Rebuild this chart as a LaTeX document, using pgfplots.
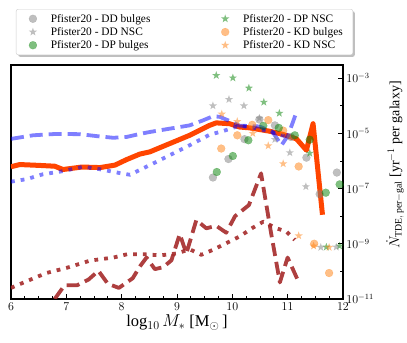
\documentclass[border=0pt]{standalone}
\usepackage{pgfplots}
\pgfplotsset{compat=1.18}
\usepackage{fontspec}
\setmainfont{Liberation Serif}
\usetikzlibrary{shadows}

\definecolor{redl}{RGB}{255,69,0}
\definecolor{brownl}{RGB}{165,42,42}
\definecolor{grayp}{RGB}{128,128,128}
\definecolor{greenp}{RGB}{0,128,0}
\definecolor{orangep}{RGB}{255,127,14}

% filled five-pointed star
\pgfdeclareplotmark{fstar}{%
  \pgfpathmoveto{\pgfqpointpolar{90}{\pgfplotmarksize}}%
  \pgfpathlineto{\pgfqpointpolar{126}{0.4\pgfplotmarksize}}%
  \pgfpathlineto{\pgfqpointpolar{162}{\pgfplotmarksize}}%
  \pgfpathlineto{\pgfqpointpolar{198}{0.4\pgfplotmarksize}}%
  \pgfpathlineto{\pgfqpointpolar{234}{\pgfplotmarksize}}%
  \pgfpathlineto{\pgfqpointpolar{270}{0.4\pgfplotmarksize}}%
  \pgfpathlineto{\pgfqpointpolar{306}{\pgfplotmarksize}}%
  \pgfpathlineto{\pgfqpointpolar{342}{0.4\pgfplotmarksize}}%
  \pgfpathlineto{\pgfqpointpolar{18}{\pgfplotmarksize}}%
  \pgfpathlineto{\pgfqpointpolar{54}{0.4\pgfplotmarksize}}%
  \pgfpathclose
  \pgfusepathqfill
}

\pgfplotsset{
  dot/.style={only marks, mark=*, mark size=4pt, color=#1, fill opacity=0.5, draw opacity=0.5, mark options={line width=0.1pt}},
  str/.style={only marks, mark=fstar, mark size=4.3pt, color=#1, fill opacity=0.5, draw opacity=0.5},
}
\pgfkeys{/pgfplots/table/lg/.style={/pgfplots/table/y expr={10^(\thisrow{ly})}}}

\begin{document}
\begin{tikzpicture}
\begin{axis}[
    width=332pt, height=234pt, scale only axis,
    xmin=6, xmax=12,
    ymode=log, ymin=1e-11, ymax=3e-3,
    xtick={6,7,8,9,10,11,12},
    minor x tick num=3,
    ytick={1e-11,1e-9,1e-7,1e-5,1e-3},
    minor ytick={1e-10,1e-8,1e-6,1e-4},
    xtick pos=bottom, ytick pos=right, yticklabel pos=right,
    tick align=inside,
    major tick length=5pt, minor tick length=3pt,
    every tick/.append style={black, line width=0.9pt},
    axis line style={line width=1.4pt},
    ticklabel style={font=\fontsize{12}{14}\selectfont},
    xlabel style={font=\fontsize{16.5}{18}\selectfont, yshift=2pt},
    ylabel style={font=\fontsize{14}{16}\selectfont, at={(rel axis cs:1,0.573)}, anchor=center, rotate=0, yshift=-52pt},
    xlabel={log$_{10}$\,$M_*$ [M$_\odot$\,]},
    ylabel={$\dot{N}_{\mathrm{TDE,\,per-gal}}$ [yr$^{-1}$ per galaxy]},
    legend columns=2,
    legend cell align=left,
    legend image code/.code={\path (0cm,0cm) (0.85cm,0cm); \draw[#1] plot coordinates {(0.3cm,0cm)};},
    legend style={at={(rel axis cs:0,1)}, anchor=south west, xshift=5pt, yshift=10pt,
        font=\fontsize{11.4}{13}\selectfont,
        draw=black!20, fill=white, rounded corners=2pt,
        drop shadow={shadow xshift=2pt, shadow yshift=-2pt, fill=black!50},
        inner xsep=8pt, inner ysep=4.3pt,
        nodes={inner ysep=0.5pt},
        row sep=2.7pt,
        /tikz/every even column/.append style={column sep=64pt}},
]
\coordinate (sw) at (rel axis cs:0,0);
\coordinate (ne) at (rel axis cs:1,1);

% model curves
\addplot[redl, line width=5pt, line join=round, forget plot] table[lg] {
x ly
6.00 -6.21
6.16 -6.13
6.50 -6.16
6.79 -6.19
6.94 -6.31
7.28 -6.22
7.61 -6.24
7.88 -6.15
8.09 -5.95
8.33 -5.75
8.51 -5.67
8.87 -5.37
9.23 -5.07
9.59 -4.71
9.71 -4.62
9.95 -4.65
10.13 -4.77
10.31 -4.80
10.67 -4.92
10.92 -5.04
11.16 -5.20
11.34 -5.61
11.46 -4.65
11.63 -7.95
};
\addplot[blue, opacity=0.5, line width=3.8pt, line join=round, dash pattern=on 13pt off 6pt, forget plot] table[lg] {
x ly
6.00 -5.20
6.40 -5.07
6.82 -5.02
7.25 -5.03
7.55 -5.10
7.85 -5.16
8.09 -5.13
8.33 -5.02
8.51 -4.95
8.87 -4.83
9.23 -4.71
9.47 -4.53
9.65 -4.38
9.77 -4.40
9.95 -4.55
10.13 -4.72
10.49 -4.75
10.73 -4.95
10.89 -5.43
11.01 -5.07
11.16 -4.23
};
\addplot[blue, opacity=0.5, line width=3.8pt, line join=round, dash pattern=on 3.8pt off 6pt, forget plot] table[lg] {
x ly
6.00 -6.75
6.28 -6.66
6.58 -6.48
6.88 -6.39
7.31 -6.21
7.61 -6.30
7.97 -6.44
8.15 -6.50
8.51 -6.15
8.87 -5.79
9.23 -5.43
9.59 -5.05
9.83 -4.92
10.13 -4.72
10.40 -4.80
10.70 -4.95
10.95 -5.10
};
\addplot[brownl, opacity=0.9, line width=3.8pt, line join=round, dash pattern=on 13pt off 6pt, forget plot] table[lg] {
x ly
6.79 -11.00
6.97 -10.50
7.20 -10.50
7.40 -10.30
7.58 -9.98
7.75 -10.45
7.95 -10.60
8.20 -10.25
8.33 -9.82
8.45 -9.50
8.60 -9.92
8.75 -9.85
8.90 -9.60
9.05 -8.65
9.17 -9.35
9.35 -8.14
9.53 -8.44
9.71 -8.35
9.89 -8.60
10.05 -8.00
10.30 -7.60
10.52 -6.45
10.70 -8.60
10.86 -10.40
11.00 -9.50
11.18 -10.30
};
\addplot[brownl, opacity=0.9, line width=3.8pt, line join=round, dash pattern=on 3.8pt off 6pt, forget plot] table[lg] {
x ly
6.00 -10.60
6.28 -10.36
6.64 -10.06
7.03 -9.86
7.43 -9.61
7.85 -9.50
8.10 -9.38
8.40 -9.38
8.70 -9.42
9.00 -9.35
9.23 -9.20
9.44 -9.40
9.65 -9.22
9.89 -8.98
10.13 -8.74
10.37 -8.42
10.56 -8.20
10.80 -8.44
10.98 -8.56
11.13 -8.86
};

% Pfister20 points (ordered so that the legend fills column by column)
\addplot[dot=grayp] table[lg] {
x ly
9.65 -6.60
9.93 -5.93
10.22 -5.21
10.49 -4.50
10.77 -4.71
11.06 -5.13
11.34 -5.88
11.58 -7.20
11.89 -6.42
};
\addlegendentry{Pfister20 - DD bulges}
\addplot[str=greenp] table[lg] {
x ly
9.71 -2.90
10.01 -2.99
10.30 -3.36
10.57 -3.87
10.85 -4.27
11.40 -5.72
11.70 -9.12
11.94 -9.08
};
\addlegendentry{Pfister20 - DP NSC}
\addplot[str=grayp] table[lg] {
x ly
9.65 -4.00
9.94 -3.77
10.21 -4.00
10.49 -4.45
10.77 -5.22
11.04 -5.70
11.33 -6.93
11.60 -9.13
11.88 -9.12
};
\addlegendentry{Pfister20 - DD NSC}
\addplot[dot=orangep] table[lg] {
x ly
9.80 -5.55
10.09 -5.07
10.36 -4.69
10.65 -4.52
10.92 -4.90
11.20 -6.20
11.48 -9.00
11.75 -10.06
};
\addlegendentry{Pfister20 - KD bulges}
\addplot[dot=greenp] table[lg] {
x ly
9.72 -6.40
10.01 -5.82
10.29 -5.25
10.56 -4.73
10.84 -4.80
11.13 -5.07
11.40 -5.23
11.69 -7.15
11.94 -6.85
};
\addlegendentry{Pfister20 - DP bulges}
\addplot[str=orangep] table[lg] {
x ly
9.81 -4.30
10.09 -4.57
10.37 -5.00
10.65 -5.45
10.92 -6.10
11.20 -8.71
11.47 -9.08
11.75 -9.13
};
\addlegendentry{Pfister20 - KD NSC}
\end{axis}
\path ([shift={(-11pt,-44pt)}]sw) rectangle ([shift={(64pt,65pt)}]ne);
\end{tikzpicture}
\end{document}
